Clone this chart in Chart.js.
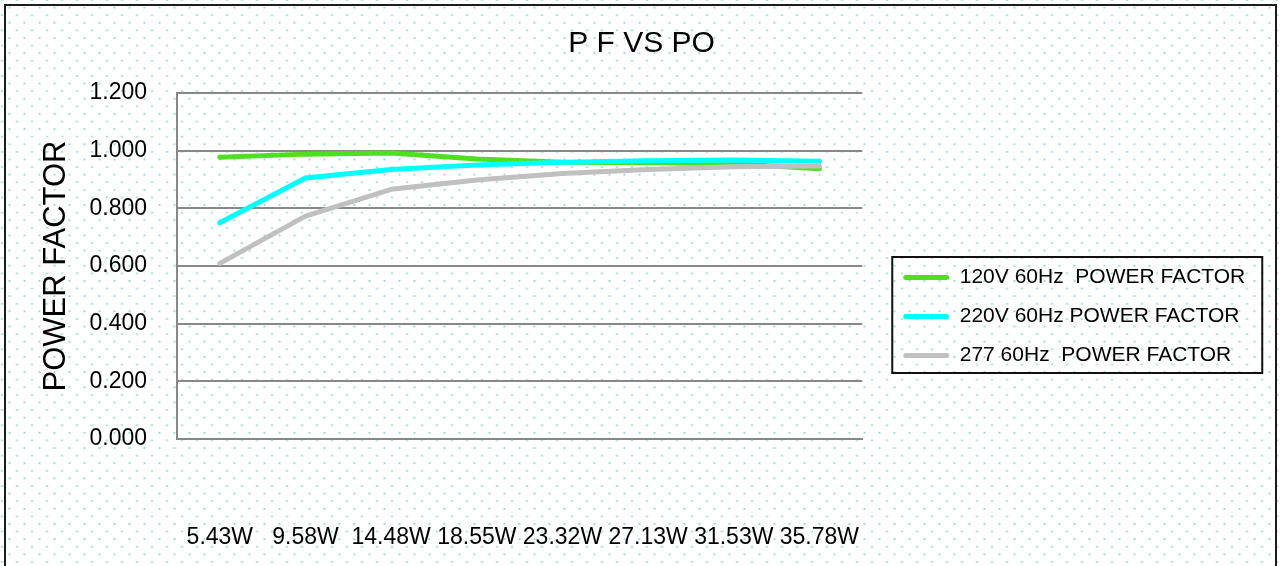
<!DOCTYPE html>
<html>
<head>
<meta charset="utf-8">
<script src="https://cdn.jsdelivr.net/npm/chart.js@4.4.1/dist/chart.umd.min.js"></script>
<style>
  html, body { margin: 0; padding: 0; background: #fff; }
  #wrap {
    position: relative; width: 1281px; height: 566px; overflow: hidden;
    background-color: #fff;
    background-image:
      radial-gradient(circle, rgba(110,195,205,0.65) 0.8px, rgba(255,255,255,0) 1.4px),
      radial-gradient(circle, rgba(110,195,205,0.65) 0.8px, rgba(255,255,255,0) 1.4px);
    background-size: 15px 15.2px, 15px 15.2px;
    background-position: 2px 0px, 9.5px 7.6px;
  }
  #frame {
    position: absolute; left: 4px; top: 4px; width: 1269px; height: 620px;
    border: 2px solid #1c1c1c; box-sizing: content-box; pointer-events: none;
  }
  canvas { position: absolute; left: 0; top: 0; }
</style>
</head>
<body>
<div id="wrap">
  <div id="frame"></div>
  <canvas id="c" width="1281" height="566"></canvas>
</div>
<script>
const categories = ['5.43W', '9.58W', '14.48W', '18.55W', '23.32W', '27.13W', '31.53W', '35.78W'];
const pf120V = [0.977, 0.988, 0.992, 0.971, 0.960, 0.958, 0.955, 0.937];
const pf220V = [0.750, 0.905, 0.935, 0.950, 0.960, 0.965, 0.968, 0.963];
const pf277V = [0.609, 0.773, 0.866, 0.898, 0.921, 0.935, 0.944, 0.947];
const seriesLabels = ['120V 60Hz  POWER FACTOR', '220V 60Hz POWER FACTOR', '277 60Hz  POWER FACTOR'];
const yMin = 0, yMax = 1.2, yStep = 0.2;

const FONT = "'Liberation Sans', Arial, sans-serif";

const legendFrame = {
  id: 'legendFrame',
  afterLayout(chart) {
    const tb = chart.titleBlock;
    if (tb) { tb.left = 1; tb.right = chart.width + 1; tb.width = tb.right - tb.left; }
    const lg = chart.legend;
    const h = lg.bottom - lg.top;
    lg.left = chart.chartArea.right + 23;
    lg.right = lg.left + 390;
    lg.width = 390;
    lg.top = chart.chartArea.top + 156;
    lg.bottom = lg.top + h;
  },
  afterDraw(chart) {
    const lg = chart.legend, ctx = chart.ctx;
    ctx.save();
    ctx.strokeStyle = '#111';
    ctx.lineWidth = 2;
    ctx.strokeRect(lg.left + 7, lg.top + 8, 370, 116);
    ctx.restore();
  }
};

new Chart(document.getElementById('c'), {
  type: 'line',
  data: {
    labels: categories,
    datasets: [
      { label: seriesLabels[0], data: pf120V, borderColor: '#4ee01e', backgroundColor: '#4ee01e', order: 3 },
      { label: seriesLabels[1], data: pf220V, borderColor: '#00ffff', backgroundColor: '#00ffff', order: 2 },
      { label: seriesLabels[2], data: pf277V, borderColor: '#c0c0c0', backgroundColor: '#c0c0c0', order: 1 }
    ]
  },
  options: {
    responsive: false,
    animation: false,
    devicePixelRatio: 1,
    elements: {
      line: { borderWidth: 5, tension: 0, borderCapStyle: 'round', borderJoinStyle: 'round', fill: false },
      point: { radius: 0, hoverRadius: 0 }
    },
    layout: { padding: { top: 20, left: 20, right: 138, bottom: 15 } },
    plugins: {
      title: {
        display: true, text: 'P F VS PO', color: '#000',
        font: { family: FONT, size: 30, weight: 'normal' },
        padding: { top: 6, bottom: 31 }
      },
      legend: {
        position: 'right', align: 'start',
        labels: {
          color: '#000', font: { family: FONT, size: 21 },
          boxWidth: 46, boxHeight: 5, padding: 18,
          useBorderRadius: true, borderRadius: 2.5,
          sort: (a, b) => a.datasetIndex - b.datasetIndex,
          generateLabels(chart) {
            const items = Chart.defaults.plugins.legend.labels.generateLabels(chart);
            items.forEach(it => { it.lineWidth = 0; it.fillStyle = it.strokeStyle; });
            return items;
          }
        }
      },
      tooltip: { enabled: false }
    },
    scales: {
      x: {
        type: 'category', offset: true,
        grid: { display: false, drawTicks: false },
        border: { display: true, color: '#888', width: 2 },
        ticks: { color: '#000', font: { family: FONT, size: 23 }, padding: 85, maxRotation: 0, autoSkip: false },
        afterFit(scale) { scale.height = 112; }
      },
      y: {
        min: yMin, max: yMax,
        grid: { color: '#888', lineWidth: 2, drawTicks: false },
        border: { display: true, color: '#888', width: 2 },
        ticks: { stepSize: yStep, color: '#000', font: { family: FONT, size: 23 }, padding: 30,
                 callback: v => Number(v).toFixed(3) },
        title: { display: true, text: 'POWER FACTOR', color: '#000',
                 font: { family: FONT, size: 31 }, padding: { top: 18, bottom: 16 } },
        afterFit(scale) { scale.width = 157; }
      }
    }
  },
  plugins: [legendFrame]
});
</script>
</body>
</html>
